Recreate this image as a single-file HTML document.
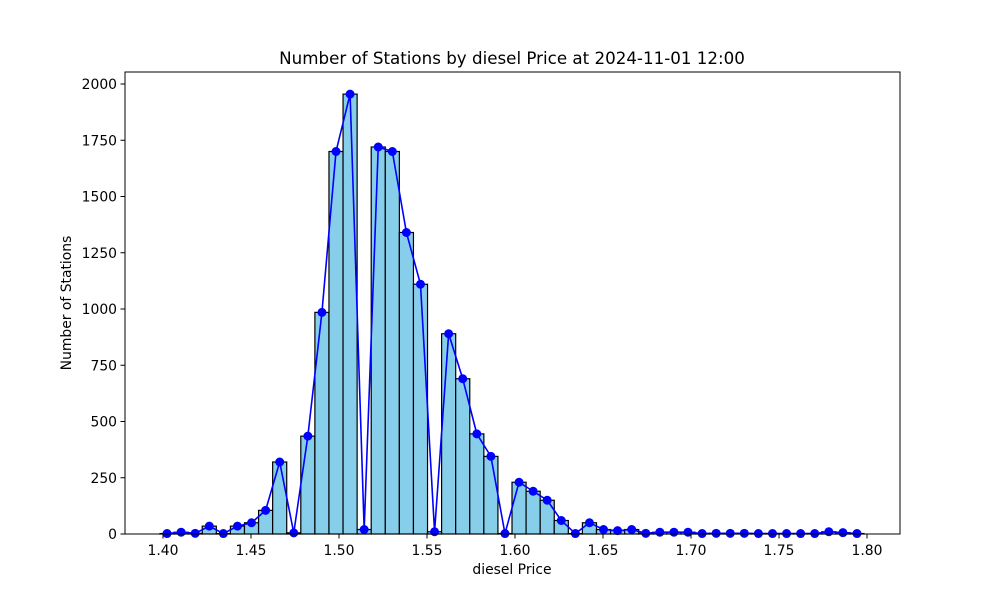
<!DOCTYPE html>
<html><head><meta charset="utf-8"><style>body{margin:0;background:#fff}svg{display:block;font-family:"DejaVu Sans","Liberation Sans",sans-serif}</style></head>
<body>
<svg id="chart" width="1000" height="600">
<rect width="1000" height="600" fill="#fff"/>
<text x="512" y="64" text-anchor="middle" font-size="16.7">Number of Stations by diesel Price at 2024-11-01 12:00</text>
<text x="512" y="574" text-anchor="middle" font-size="13.9">diesel Price</text>
<text x="71" y="303" text-anchor="middle" font-size="13.9" transform="rotate(-90 71 303)">Number of Stations</text>
<g id="marks"></g>
<rect x="125" y="72" width="775" height="462" fill="none" stroke="#000" stroke-width="1"/>
<g id="axes"></g>
</svg>
<script>
const binStart = 1.3983;
const binWidth = 0.008;
const counts = [2,8,3,35,2,35,50,105,320,5,435,985,1700,1955,20,1720,1700,1340,1110,10,890,690,445,345,2,230,190,150,60,2,50,20,15,20,3,8,8,8,2,3,3,3,2,2,2,2,2,10,6,2];
const xTicks = [1.40,1.45,1.50,1.55,1.60,1.65,1.70,1.75,1.80];
const yTicks = [0,250,500,750,1000,1250,1500,1750,2000];

const NS = "http://www.w3.org/2000/svg";
const xs = v => 163 + (v - 1.40) * 1760;
const ys = v => 534 - v * 0.225;
const marks = document.getElementById('marks');
const axes = document.getElementById('axes');
function mk(tag, attrs, parent) {
  const e = document.createElementNS(NS, tag);
  for (const k in attrs) e.setAttribute(k, attrs[k]);
  parent.appendChild(e);
  return e;
}
counts.forEach((c, i) => {
  const x0 = xs(binStart + i * binWidth), x1 = xs(binStart + (i + 1) * binWidth);
  const r = mk('rect', {x: x0, y: ys(c), width: x1 - x0, height: ys(0) - ys(c), fill: '#87ceeb', stroke: '#000', 'stroke-width': 1.2}, marks);
  
  
});
const pts = counts.map((c, i) => [xs(binStart + (i + 0.5) * binWidth), ys(c)]);
const line = mk('polyline', {points: pts.map(p => p.join(',')).join(' '), fill: 'none', stroke: '#0000ff', 'stroke-width': 1.6}, marks);


pts.forEach(p => {
  const c = mk('circle', {cx: p[0], cy: p[1], r: 4.5, fill: '#0000ff'}, marks);
  
  
});
xTicks.forEach(t => {
  const x = xs(t);
  mk('line', {x1: x, x2: x, y1: 534, y2: 538.5, stroke: '#000'}, axes);
  const tx = mk('text', {x: x, y: 555, 'text-anchor': 'middle', 'font-size': 13.9}, axes);
  tx.textContent = t.toFixed(2);
  
  
});
yTicks.forEach(t => {
  const y = ys(t);
  mk('line', {x1: 125, x2: 120.5, y1: y, y2: y, stroke: '#000'}, axes);
  const tx = mk('text', {x: 117, y: y + 5, 'text-anchor': 'end', 'font-size': 13.9}, axes);
  tx.textContent = t;
  
  
});
</script>
</body></html>
